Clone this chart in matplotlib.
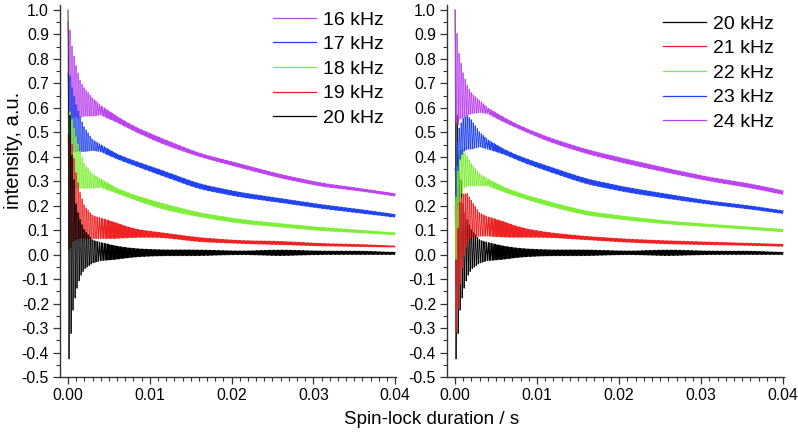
import numpy as np
import matplotlib
matplotlib.use('Agg')
import matplotlib.pyplot as plt
from matplotlib.ticker import MultipleLocator, FormatStrFormatter

plt.rcParams['font.family'] = ['Liberation Sans', 'DejaVu Sans']
plt.rcParams['axes.unicode_minus'] = False

# ---- envelope values (upper / lower edge of each oscillating band) ----
knot_t = [0, 0.0002, 0.0005, 0.001, 0.0015, 0.002, 0.003, 0.004, 0.006, 0.008,
          0.0115, 0.016, 0.021, 0.026, 0.031, 0.036, 0.040]

khz16_upper = [0.95, 0.93, 0.85, 0.77, 0.71, 0.68, 0.64, 0.61, 0.565, 0.525, 0.475, 0.415, 0.372, 0.328, 0.293, 0.27, 0.25]
khz16_lower = [0.60, 0.56, 0.56, 0.56, 0.56, 0.565, 0.565, 0.57, 0.54, 0.505, 0.452, 0.40, 0.355, 0.312, 0.278, 0.258, 0.238]

khz17_upper = [0.74, 0.74, 0.68, 0.61, 0.56, 0.52, 0.47, 0.45, 0.41, 0.385, 0.345, 0.29, 0.255, 0.23, 0.205, 0.184, 0.165]
khz17_lower = [0.45, 0.42, 0.42, 0.42, 0.42, 0.42, 0.425, 0.42, 0.39, 0.365, 0.322, 0.268, 0.235, 0.212, 0.188, 0.168, 0.152]

khz18_upper = [0.59, 0.59, 0.55, 0.48, 0.42, 0.37, 0.33, 0.31, 0.27, 0.245, 0.21, 0.172, 0.145, 0.127, 0.112, 0.10, 0.09]
khz18_lower = [0.30, 0.27, 0.27, 0.27, 0.27, 0.27, 0.27, 0.275, 0.25, 0.225, 0.185, 0.154, 0.127, 0.112, 0.097, 0.088, 0.08]

khz19_upper = [0.49, 0.49, 0.45, 0.33, 0.25, 0.20, 0.16, 0.15, 0.13, 0.105, 0.09, 0.07, 0.058, 0.055, 0.046, 0.042, 0.036]
khz19_lower = [0.05, 0.0, 0.05, 0.06, 0.065, 0.065, 0.065, 0.065, 0.065, 0.07, 0.07, 0.052, 0.045, 0.04, 0.035, 0.032, 0.03]

khz20_upper = [1.0, 0.60, 0.40, 0.20, 0.14, 0.10, 0.06, 0.05, 0.035, 0.025, 0.02, 0.02, 0.015, 0.02, 0.015, 0.015, 0.01]
khz20_lower = [-0.44, -0.42, -0.25, -0.15, -0.09, -0.06, -0.035, -0.025, -0.02, -0.01, -0.005, -0.005, 0.0, -0.005, 0.0, 0.0, 0.0]

khz21_upper = [0.20, 0.18, 0.22, 0.25, 0.25, 0.22, 0.17, 0.155, 0.135, 0.11, 0.09, 0.075, 0.064, 0.057, 0.052, 0.047, 0.043]
khz21_lower = [-0.33, -0.31, -0.15, -0.02, 0.05, 0.07, 0.075, 0.075, 0.07, 0.07, 0.07, 0.06, 0.05, 0.043, 0.04, 0.037, 0.033]

khz22_upper = [0.25, 0.35, 0.43, 0.43, 0.40, 0.37, 0.33, 0.31, 0.275, 0.25, 0.217, 0.178, 0.156, 0.138, 0.125, 0.114, 0.104]
khz22_lower = [-0.05, 0.0, 0.20, 0.27, 0.28, 0.28, 0.28, 0.28, 0.255, 0.232, 0.197, 0.16, 0.14, 0.124, 0.113, 0.102, 0.092]

khz23_upper = [0.35, 0.45, 0.52, 0.56, 0.57, 0.55, 0.50, 0.47, 0.43, 0.40, 0.36, 0.31, 0.275, 0.247, 0.22, 0.20, 0.18]
khz23_lower = [0.15, 0.30, 0.38, 0.42, 0.43, 0.43, 0.44, 0.43, 0.41, 0.38, 0.338, 0.288, 0.254, 0.228, 0.205, 0.185, 0.167]

khz24_upper = [1.0, 0.92, 0.82, 0.74, 0.69, 0.66, 0.63, 0.60, 0.56, 0.525, 0.478, 0.43, 0.39, 0.352, 0.317, 0.29, 0.262]
khz24_lower = [0.60, 0.50, 0.55, 0.56, 0.57, 0.575, 0.58, 0.575, 0.54, 0.51, 0.46, 0.412, 0.37, 0.334, 0.30, 0.272, 0.245]

left_labels = ['16 kHz', '17 kHz', '18 kHz', '19 kHz', '20 kHz']
right_labels = ['20 kHz', '21 kHz', '22 kHz', '23 kHz', '24 kHz']

x_ticks = [0.00, 0.01, 0.02, 0.03, 0.04]
y_ticks = [-0.5, -0.4, -0.3, -0.2, -0.1, 0.0, 0.1, 0.2, 0.3, 0.4, 0.5, 0.6, 0.7, 0.8, 0.9, 1.0]

series = {
    '16 kHz': (khz16_upper, khz16_lower),
    '17 kHz': (khz17_upper, khz17_lower),
    '18 kHz': (khz18_upper, khz18_lower),
    '19 kHz': (khz19_upper, khz19_lower),
    '20 kHz': (khz20_upper, khz20_lower),
    '21 kHz': (khz21_upper, khz21_lower),
    '22 kHz': (khz22_upper, khz22_lower),
    '23 kHz': (khz23_upper, khz23_lower),
    '24 kHz': (khz24_upper, khz24_lower),
}

colors = {
    '16 kHz': '#BB44EE', '24 kHz': '#BB44EE',
    '17 kHz': '#2244EE', '23 kHz': '#2244EE',
    '18 kHz': '#7FEE3A', '22 kHz': '#7FEE3A',
    '19 kHz': '#EE2222', '21 kHz': '#EE2222',
    '20 kHz': '#000000',
}

# sampling grid of the acquisition (dense, so the oscillation renders as a band);
# apparent (aliased) oscillation period is slower at the very start
dt = 1.0e-5
t = np.arange(0, 0.04 + 1e-9, dt)
period = np.interp(t, [0, 0.003, 0.005, 0.04], [2.45e-4, 2.45e-4, 1.6e-4, 1.6e-4])
phase = 2 * np.pi * np.cumsum(dt / period)
phase -= phase[0]
carrier = 0.5 + 0.5 * np.cos(phase)

# smooth the knot-to-knot joins in the slowly varying tail
win = 301
kernel = np.ones(win) / win
blend = np.clip((t - 0.004) / 0.004, 0, 1)


def smooth(env):
    pad = np.concatenate([np.full(win // 2, env[0]), env, env[-1] + (env[-1] - env[-win // 2 - 1:-1][::-1])])
    sm = np.convolve(pad, kernel, mode='valid')[:len(env)]
    return env * (1 - blend) + sm * blend


def signal(name):
    up, lo = series[name]
    u = smooth(np.interp(t, knot_t, up))
    l = smooth(np.interp(t, knot_t, lo))
    return l + (u - l) * carrier


fig = plt.figure(figsize=(7.98, 4.33), dpi=100)
W, H = 798, 433
ax1 = fig.add_axes([60 / W, 1 - 377 / H, 336 / W, 372 / H])
ax2 = fig.add_axes([447 / W, 1 - 377 / H, 337 / W, 372 / H])

for ax, labels, leg_xy in ((ax1, left_labels, (273, 11)), (ax2, right_labels, (663, 15))):
    for name in labels:
        ax.plot(t, signal(name), color=colors[name], lw=0.55, label=name)
    ax.set_xlim(-0.00098, 0.0401)
    ax.set_ylim(-0.5, 1.02)
    for s in ('top', 'right'):
        ax.spines[s].set_visible(False)
    for s in ('left', 'bottom'):
        ax.spines[s].set_linewidth(1.0)
        ax.spines[s].set_color('#333333')
    ax.set_xticks(x_ticks)
    ax.set_yticks(y_ticks)
    ax.xaxis.set_major_formatter(FormatStrFormatter('%.2f'))
    ax.yaxis.set_major_formatter(FormatStrFormatter('%.1f'))
    ax.xaxis.set_minor_locator(MultipleLocator(0.001))
    ax.yaxis.set_minor_locator(MultipleLocator(0.05))
    ax.tick_params(which='major', direction='out', length=5, width=0.9, labelsize=11.3,
                   color='#333333', pad=3)
    ax.tick_params(which='minor', direction='out', length=3, width=0.8, color='#333333')
    handles, labs = ax.get_legend_handles_labels()
    leg = ax.legend(handles, labs, loc='upper left',
                    bbox_to_anchor=(leg_xy[0] / W, 1 - leg_xy[1] / H),
                    bbox_transform=fig.transFigure, frameon=False,
                    fontsize=14, handlelength=2.2, handletextpad=0.36,
                    labelspacing=0.36, borderaxespad=0, borderpad=0)
    for lh in leg.get_lines():
        lh.set_linewidth(0.9)

fig.text(14 / W, 1 - 150 / H, 'intensity, a.u.', rotation=90, ha='center', va='center',
         fontsize=14.5)
fig.text(432 / W, 1 - 419 / H, 'Spin-lock duration / s', ha='center', va='center', fontsize=13.5)

fig.savefig('out.png', dpi=100)
